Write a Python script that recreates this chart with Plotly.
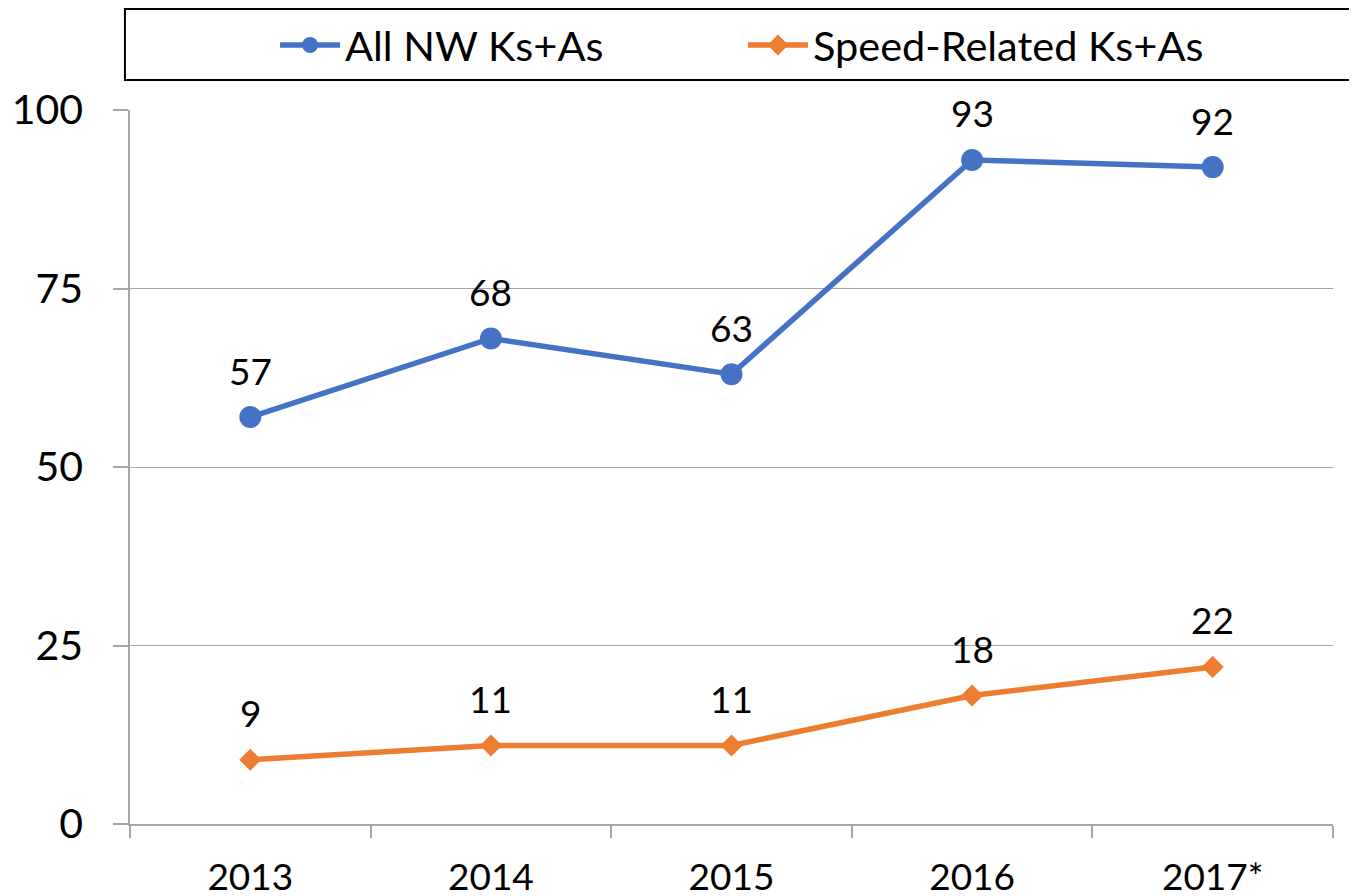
import plotly.graph_objects as go

years = ["2013", "2014", "2015", "2016", "2017*"]
all_nw = [57, 68, 63, 93, 92]
speed_related = [9, 11, 11, 18, 22]
series_names = ["All NW Ks+As", "Speed-Related Ks+As"]
y_ticks = [0, 25, 50, 75, 100]

BLUE = "#4472C4"
ORANGE = "#ED7D31"
FONT = "Lato"
FS = 37

fig = go.Figure()
fig.add_trace(go.Scatter(x=years, y=all_nw, name=series_names[0], mode="lines+markers",
                         line=dict(color=BLUE, width=5.5), legend="legend",
                         marker=dict(symbol="circle", size=22, color=BLUE)))
fig.add_trace(go.Scatter(x=years, y=speed_related, name=series_names[1], mode="lines+markers",
                         line=dict(color=ORANGE, width=5.5), legend="legend2",
                         marker=dict(symbol="diamond", size=17, color=ORANGE)))

for ys in (all_nw, speed_related):
    for i, y in enumerate(ys):
        fig.add_annotation(x=i, y=y, xref="x", yref="y", text=str(y), showarrow=False, yshift=47,
                           yanchor="middle", font=dict(family=FONT, size=FS, color="black"))

# legend frame
fig.add_shape(type="rect", xref="paper", yref="paper",
              x0=-0.0042, x1=1.03, y0=1.042, y1=1.1415,
              line=dict(color="black", width=2), fillcolor="rgba(0,0,0,0)", layer="above")

legend_common = dict(orientation="h", xref="container", yref="container",
                     xanchor="left", y=0.9587, yanchor="middle",
                     bgcolor="rgba(0,0,0,0)", borderwidth=0,
                     font=dict(family=FONT, size=41.5, color="black"), itemwidth=60)

fig.update_layout(
    width=1357, height=896,
    margin=dict(l=122, r=32, t=102, b=80),
    paper_bgcolor="white", plot_bgcolor="white",
    font=dict(family=FONT, size=FS, color="black"),
    showlegend=True,
    legend=dict(x=0.1968, **legend_common),
    legend2=dict(x=0.5416, **legend_common),
    xaxis=dict(type="category", range=[-0.5, len(years) - 0.5], showgrid=False, showline=True,
               linecolor="#A6A6A6", linewidth=1.5, automargin=False,
               ticks="outside", tickson="boundaries", ticklen=12, tickcolor="#A6A6A6", tickwidth=1.5,
               tickfont=dict(family=FONT, size=FS), tickangle=0, ticklabelstandoff=20),
    yaxis=dict(range=[0, 100], tickvals=y_ticks, showgrid=True, gridcolor="#A6A6A6", gridwidth=1.2,
               showline=True, linecolor="#A6A6A6", linewidth=1.5, zeroline=False, automargin=False,
               ticks="outside", ticklen=15, tickcolor="#A6A6A6", tickwidth=1.5,
               tickfont=dict(family=FONT, size=41), ticklabelstandoff=22),
)

fig.write_html("out.html")
